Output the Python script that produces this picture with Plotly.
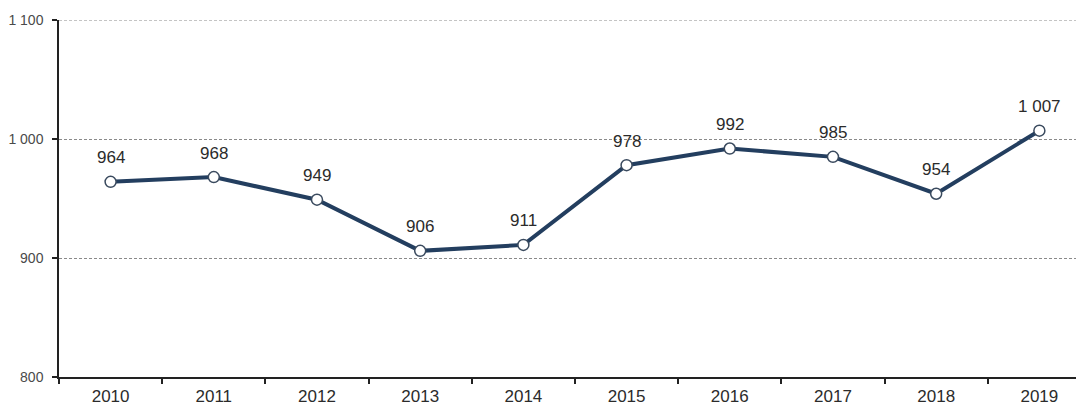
import plotly.graph_objects as go

years = ["2010", "2011", "2012", "2013", "2014", "2015", "2016", "2017", "2018", "2019"]
values = [964, 968, 949, 906, 911, 978, 992, 985, 954, 1007]
value_labels = ["964", "968", "949", "906", "911", "978", "992", "985", "954", "1 007"]
y_tickvals = [800, 900, 1000, 1100]
y_ticktext = ["800", "900", "1 000", "1 100"]

fig = go.Figure()
fig.add_trace(go.Scatter(
    x=years, y=values, mode="lines+markers",
    line=dict(color="#233E5F", width=4),
    marker=dict(size=11, color="white", line=dict(color="#3A4A5E", width=1.5)),
    hoverinfo="skip", showlegend=False,
))
for i, (v, t) in enumerate(zip(values, value_labels)):
    fig.add_annotation(x=i, y=v, xref="x", yref="y", text=t, showarrow=False, yshift=24,
                       font=dict(family="Liberation Sans, Arial", size=17, color="#2b2b2b"))

# top gridline (plotly omits gridlines on the range edge)
fig.add_shape(type="line", xref="paper", x0=0, x1=1, yref="y", y0=y_tickvals[-1], y1=y_tickvals[-1],
              line=dict(color="#8a8a8a", width=1, dash="3px,2px"), layer="below")

fig.update_layout(
    width=1076, height=406,
    margin=dict(l=59, r=0, t=20, b=27),
    paper_bgcolor="white", plot_bgcolor="white",
    font=dict(family="Liberation Sans, Arial"),
)
fig.update_xaxes(
    type="category", range=[-0.5, 9.355],
    tickson="boundaries", ticks="outside", ticklen=5, tickcolor="#222222", tickwidth=1.5,
    showline=True, linecolor="#222222", linewidth=1.5,
    showgrid=False, zeroline=False, ticklabelstandoff=3,
    tickfont=dict(size=17, color="#2b2b2b"),
)
fig.update_yaxes(
    range=[800, 1100], tickvals=y_tickvals, ticktext=y_ticktext,
    ticks="outside", ticklen=5, tickcolor="#222222", tickwidth=1.5,
    showline=True, linecolor="#222222", linewidth=1.5,
    showgrid=True, gridcolor="#8a8a8a", griddash="3px,2px", gridwidth=1,
    zeroline=False, ticklabelstandoff=6,
    tickfont=dict(size=14, color="#4a4a4a"),
)
fig.write_html("out.html")
